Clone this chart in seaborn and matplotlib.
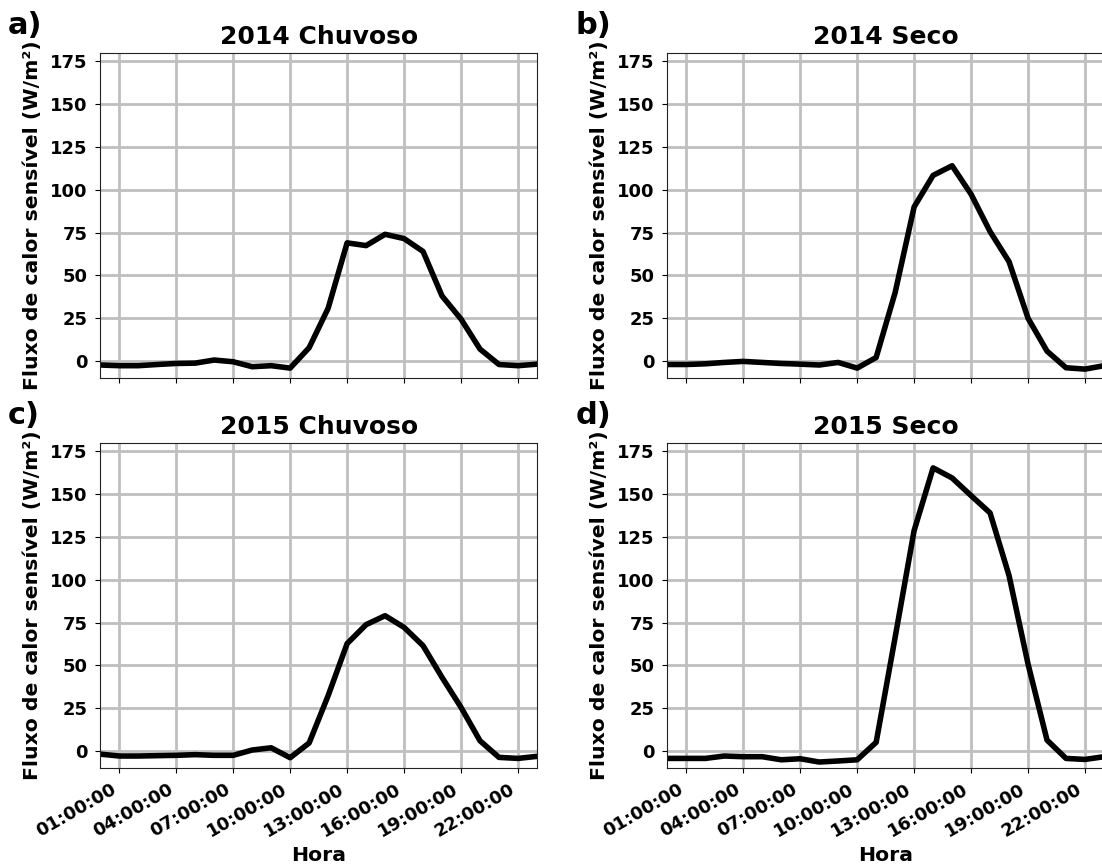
import pandas as pd
import matplotlib
matplotlib.use('Agg')
import matplotlib.pyplot as plt
import seaborn as sns

# Horas do dia (0 = 00:00:00 ... 23 = 23:00:00)
horas = list(range(24))

# Fluxo de calor sensível (W/m²)
chuvoso_2014 = [-2.3, -2.7, -2.7, -2.0, -1.4, -1.2, 0.6, -0.4, -3.3, -2.7, -4.1, 7.8,
                30.8, 69.0, 67.4, 74.0, 71.5, 64.0, 38.0, 24.5, 7.0, -2.0, -2.7, -1.8]
seco_2014 = [-2.0, -2.0, -1.6, -0.8, -0.2, -0.8, -1.4, -1.8, -2.3, -0.8, -4.1, 2.1,
             40.0, 90.0, 108.4, 114.0, 97.4, 75.6, 58.0, 25.0, 5.8, -3.9, -4.7, -2.7]
chuvoso_2015 = [-1.8, -2.9, -2.9, -2.7, -2.5, -2.1, -2.5, -2.5, 0.6, 1.9, -3.9, 4.7,
                32.3, 62.7, 73.8, 79.0, 72.2, 61.5, 43.0, 25.5, 6.0, -3.7, -4.3, -3.1]
seco_2015 = [-4.3, -4.3, -4.3, -2.9, -3.3, -3.3, -5.1, -4.5, -6.4, -5.8, -5.1, 5.1,
             66.4, 128.7, 165.3, 159.4, 149.1, 139.0, 102.4, 50.8, 6.4, -4.3, -4.9, -3.3]

titulos = ['2014 Chuvoso', '2014 Seco', '2015 Chuvoso', '2015 Seco']
letras = ['a)', 'b)', 'c)', 'd)']
series = [chuvoso_2014, seco_2014, chuvoso_2015, seco_2015]

posicoes_x = [1, 4, 7, 10, 13, 16, 19, 22]
rotulos_x = ['01:00:00', '04:00:00', '07:00:00', '10:00:00',
             '13:00:00', '16:00:00', '19:00:00', '22:00:00']
ticks_y = [0, 25, 50, 75, 100, 125, 150, 175]

sns.set_style('ticks', {'axes.grid': True, 'grid.color': '#bfbfbf',
                        'axes.edgecolor': '#222222', 'text.color': 'black',
                        'axes.labelcolor': 'black', 'xtick.color': 'black',
                        'ytick.color': 'black'})
plt.rcParams['font.family'] = ['DejaVu Sans']
plt.rcParams['font.weight'] = 'bold'
plt.rcParams['axes.titleweight'] = 'bold'
plt.rcParams['axes.labelweight'] = 'bold'
plt.rcParams['grid.linewidth'] = 2.0

fig, axes = plt.subplots(2, 2, figsize=(11.02, 8.64), dpi=100, sharex=True)
plt.subplots_adjust(left=0.091, right=1.0018, top=0.939, bottom=0.1115,
                    wspace=0.2985, hspace=0.2)

for ax, titulo, letra, valores in zip(axes.flat, titulos, letras, series):
    df = pd.DataFrame({'Hora': horas, 'Fluxo': valores})
    sns.lineplot(data=df, x='Hora', y='Fluxo', ax=ax, color='black', linewidth=4)
    ax.set_title(titulo, fontsize=18, fontweight='bold', color='black')
    ax.set_xlim(0, 23)
    ax.set_ylim(-9.7, 180)
    ax.set_yticks(ticks_y)
    ax.set_xticks(posicoes_x)
    ax.set_xticklabels(rotulos_x)
    ax.set_ylabel('Fluxo de calor sensível (W/m²)', fontsize=14.7, labelpad=6)
    ax.set_xlabel('')
    ax.tick_params(labelsize=13, pad=5.5, length=3.5, width=0.8, colors='black')
    ax.text(-0.211, 1.058, letra, transform=ax.transAxes, fontsize=22,
            fontweight='bold', va='baseline', ha='left', color='black')

for ax in axes[1]:
    ax.set_xlabel('Hora', fontsize=14.7)
    plt.setp(ax.get_xticklabels(), rotation=30, ha='right')

fig.savefig('out.png', dpi=100)
